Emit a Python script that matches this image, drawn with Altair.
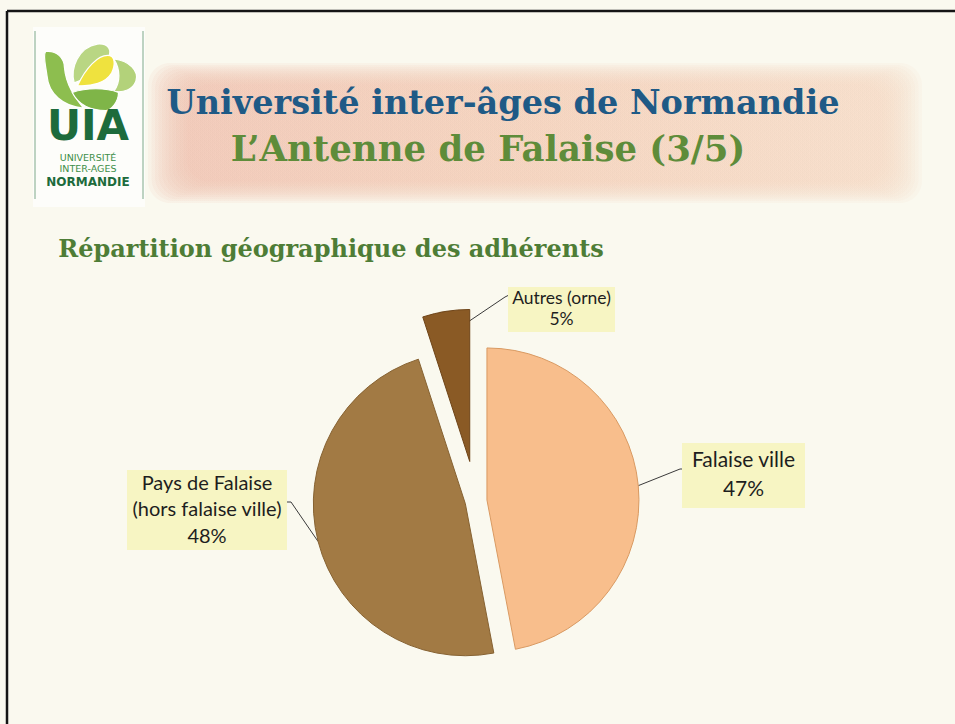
import math
import altair as alt
import pandas as pd

# ---------------- data ----------------
categories = ["Falaise ville", "Pays de Falaise (hors falaise ville)", "Autres (orne)"]
shares = [47, 48, 5]
label_names = [["Falaise ville"], ["Pays de Falaise", "(hors falaise ville)"], ["Autres (orne)"]]

title_line1 = "Université inter-âges de Normandie"
title_line2 = "L\u2019Antenne de Falaise (3/5)"
chart_title = "Répartition géographique des adhérents"
logo_big = "UIA"
logo_small = ["UNIVERSITÉ", "INTER-AGES", "NORMANDIE"]

# ---------------- style / layout ----------------
W, H = 955, 724
BG = "#FAF9EF"
slice_colors = ["#F8BE8C", "#A27A44", "#8A5A25"]
slice_strokes = ["#D99A62", "#866232", "#6E4418"]
pie_cx, pie_cy, pie_r = 476, 501, 152
explode = [11, 11, 40]
leader_attach = [(0.5, 1.0), (0.5, 1.0), (0.97, 0.92)]  # (fraction of slice angle, fraction of radius)
label_boxes = [(682, 805, 443, 508), (127, 287, 470, 550), (508, 615, 287, 332)]
label_font = [21, 20, 17.5]
label_lh = [28.5, 26.5, 21.5]
leader_mid = [[(680, 469), (683, 469)], [(291, 502), (284, 502)], [(505, 297), (509, 295)]]

# ---------------- pie geometry from the data ----------------
total = sum(shares)
rows, lead_rows, lab_rows = [], [], []
acc = 0.0
for i, (cat, v) in enumerate(zip(categories, shares)):
    t0 = acc / total * 2 * math.pi
    acc += v
    t1 = acc / total * 2 * math.pi
    mid = (t0 + t1) / 2
    cx = pie_cx + explode[i] * math.sin(mid)
    cy = pie_cy - explode[i] * math.cos(mid)
    rows.append(dict(cat=cat, t0=t0, t1=t1, cx=cx, cy=cy))
    fa, fr = leader_attach[i]
    a = t0 + fa * (t1 - t0)
    sx = cx + fr * pie_r * math.sin(a)
    sy = cy - fr * pie_r * math.cos(a)
    pts = [(sx, sy)] + leader_mid[i]
    for k, (px, py) in enumerate(pts):
        lead_rows.append(dict(cat=cat, k=k, px=px, py=py))
    x0, x1, y0, y1 = label_boxes[i]
    lines = label_names[i] + [f"{v}%"]
    # first line position so the block of lines is centred in its box
    lab_rows.append(dict(cat=cat, x0=x0, x1=x1, y0=y0, y1=y1,
                         tx=(x0 + x1) / 2,
                         ty=(y0 + y1) / 2 - (len(lines) - 1) * label_lh[i] / 2,
                         txt="\n".join(lines)))
pie_df = pd.DataFrame(rows)
lead_df = pd.DataFrame(lead_rows)
lab_df = pd.DataFrame(lab_rows)

cscale = alt.Scale(domain=categories, range=slice_colors)
sscale = alt.Scale(domain=categories, range=slice_strokes)

pie = alt.Chart(pie_df).mark_arc(radius=pie_r, strokeWidth=1).encode(
    x=alt.X("cx:Q", scale=None, axis=None),
    y=alt.Y("cy:Q", scale=None, axis=None),
    theta=alt.Theta("t0:Q", scale=None),
    theta2="t1:Q",
    color=alt.Color("cat:N", scale=cscale, legend=None),
    stroke=alt.Stroke("cat:N", scale=sscale, legend=None),
)

leaders = alt.Chart(lead_df).mark_line(color="#3A3A3A", strokeWidth=1).encode(
    x=alt.X("px:Q", scale=None, axis=None),
    y=alt.Y("py:Q", scale=None, axis=None),
    detail="cat:N",
    order="k:Q",
)

boxes = alt.Chart(lab_df).mark_rect(color="#F7F5C3").encode(
    x=alt.X("x0:Q", scale=None, axis=None), x2="x1:Q",
    y=alt.Y("y0:Q", scale=None, axis=None), y2="y1:Q",
)

label_layers = []
for i, cat in enumerate(categories):
    label_layers.append(
        alt.Chart(lab_df[lab_df.cat == cat]).mark_text(
            font="Lato", fontSize=label_font[i], color="#1E1E1E",
            lineBreak="\n", lineHeight=label_lh[i], align="center", baseline="middle",
        ).encode(
            x=alt.X("tx:Q", scale=None, axis=None),
            y=alt.Y("ty:Q", scale=None, axis=None),
            text="txt:N",
        )
    )

# ---------------- decoration: frame, banner, logo ----------------
frame_df = pd.DataFrame([
    dict(x=7, x2=W, y=11, y2=11),
    dict(x=7, x2=7, y=11, y2=H),
])
frame = alt.Chart(frame_df).mark_rule(color="#151515", strokeWidth=2.5).encode(
    x=alt.X("x:Q", scale=None, axis=None), x2="x2:Q",
    y=alt.Y("y:Q", scale=None, axis=None), y2="y2:Q",
)

ins = [d * 3.5 for d in range(12)]
banner_df = pd.DataFrame(dict(x=[148 + d for d in ins], x2=[922 - d for d in ins],
                              y=[63 + d * 0.55 for d in ins], y2=[203 - d * 0.55 for d in ins]))
banner = alt.Chart(banner_df).mark_rect(
    cornerRadius=22, opacity=0.13,
    color=alt.LinearGradient(gradient="linear", x1=0, y1=0, x2=1, y2=0,
                             stops=[alt.GradientStop(color="#EEC0AE", offset=0),
                                    alt.GradientStop(color="#F1CCB6", offset=0.5),
                                    alt.GradientStop(color="#F3D9C4", offset=1)]),
).encode(
    x=alt.X("x:Q", scale=None, axis=None), x2="x2:Q",
    y=alt.Y("y:Q", scale=None, axis=None), y2="y2:Q",
)

logo_box = alt.Chart(pd.DataFrame(dict(x=[33], x2=[145], y=[27], y2=[207]))).mark_rect(color="#FDFDFA").encode(
    x=alt.X("x:Q", scale=None, axis=None), x2="x2:Q",
    y=alt.Y("y:Q", scale=None, axis=None), y2="y2:Q",
)
logo_lines = alt.Chart(pd.DataFrame(dict(x=[35, 143], y=[31, 31], y2=[199, 199]))).mark_rule(
    color="#7FA98A", strokeWidth=1).encode(
    x=alt.X("x:Q", scale=None, axis=None),
    y=alt.Y("y:Q", scale=None, axis=None), y2="y2:Q",
)

leaf_paths = [
    ("M -0.6 -0.95 C -0.2 -1.0 0.05 -0.7 0.05 -0.4 C 0.1 0.2 0.4 0.6 0.7 1.0 C 0.0 0.95 -0.5 0.5 -0.55 -0.1 C -0.6 -0.5 -0.7 -0.8 -0.6 -0.95 Z", 63, 79, 3364, "#8DBE4F"),
    ("M -0.8 0.9 C -1 0.2 -0.6 -0.8 0.3 -0.95 C 0.9 -1 1 -0.6 0.8 -0.3 C 0.5 0.2 0 0.6 -0.8 0.9 Z", 91, 64, 1764, "#B9D683"),
    ("M -0.6 -1 C 0.3 -0.9 0.9 -0.3 0.7 0.3 C 0.5 0.8 0 1 -0.6 0.9 C -0.2 0.4 -0.2 -0.4 -0.6 -1 Z", 124, 76, 1156, "#B3D27A"),
    ("M -0.95 -0.3 C -0.4 -0.5 0.4 -0.5 0.9 -0.3 C 0.9 0.1 0.6 0.4 0.4 0.42 C -0.2 0.42 -0.7 0.2 -0.95 -0.3 Z", 96, 100, 2500, "#7FB548"),
    ("M -0.95 0.75 C -0.5 -0.2 0.1 -0.8 0.6 -0.8 C 1.0 -0.8 1.0 -0.3 0.8 0.1 C 0.5 0.6 -0.2 0.8 -0.95 0.75 Z", 96, 71, 1521, "#EFE23E"),
]
leaf_layers = []
for path, lx, ly, sz, col in leaf_paths:
    leaf_layers.append(
        alt.Chart(pd.DataFrame(dict(x=[lx], y=[ly]))).mark_point(
            shape=path, size=sz, filled=True, color=col, opacity=1,
            stroke="#FFFFFF", strokeWidth=1.2,
        ).encode(x=alt.X("x:Q", scale=None, axis=None), y=alt.Y("y:Q", scale=None, axis=None))
    )


def text_layer(txt, x, y, size, color, font="DejaVu Serif", weight="bold", baseline="alphabetic"):
    return alt.Chart(pd.DataFrame(dict(t=[txt], x=[x], y=[y]))).mark_text(
        font=font, fontSize=size, fontWeight=weight, color=color,
        align="center", baseline=baseline,
    ).encode(x=alt.X("x:Q", scale=None, axis=None), y=alt.Y("y:Q", scale=None, axis=None), text="t:N")


texts = [
    text_layer(title_line1, 503, 114, 33.5, "#1F5A86"),
    text_layer(title_line2, 488, 161, 35.5, "#5E8C3A"),
    text_layer(chart_title, 331, 257, 24, "#4E7D36"),
    text_layer(logo_big, 88, 140, 42, "#1D6B3C", font="DejaVu Sans"),
    text_layer(logo_small[0], 88, 161, 9.5, "#3E8E48", font="DejaVu Sans", weight="normal"),
    text_layer(logo_small[1], 88, 172, 9.5, "#3E8E48", font="DejaVu Sans", weight="normal"),
    text_layer(logo_small[2], 88, 186, 12, "#1D6B3C", font="DejaVu Sans"),
]

chart = alt.layer(
    banner, logo_box, logo_lines, *leaf_layers, frame, *texts,
    leaders, pie, boxes, *label_layers,
).properties(
    width=W, height=H, padding=0, autosize="none", background=BG,
).configure_view(stroke=None)

chart.save("out.html", embed_options={"renderer": "svg", "actions": False})
